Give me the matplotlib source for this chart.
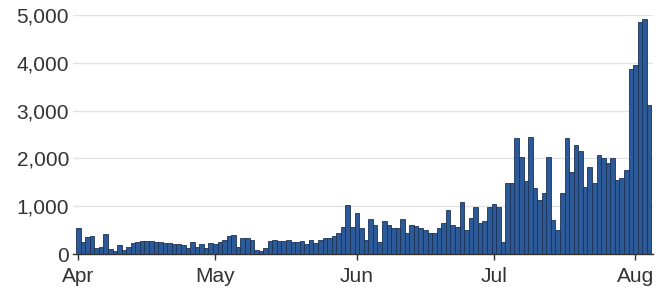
import numpy as np
import pandas as pd
import matplotlib
matplotlib.use("Agg")
import matplotlib.pyplot as plt
import matplotlib.dates as mdates
from matplotlib.ticker import FuncFormatter

# daily new cases
apr = [550, 250, 350, 380, 120, 150, 420, 100, 60, 180, 90, 150, 230, 250, 270,
       280, 270, 260, 250, 240, 230, 200, 210, 180, 130, 250, 150, 220, 120, 240]
may = [200, 250, 300, 380, 400, 150, 330, 340, 300, 80, 60, 120, 280, 300, 270, 280,
       290, 260, 250, 270, 200, 290, 230, 300, 330, 330, 380, 450, 560, 1030, 560]
jun = [860, 550, 300, 735, 610, 250, 690, 600, 550, 550, 735, 450, 600, 590, 550,
       500, 450, 440, 550, 650, 920, 600, 570, 1090, 500, 750, 990, 650, 700, 990]
jul = [1050, 990, 250, 1490, 1490, 2420, 2040, 1520, 2460, 1380, 1130, 1270, 2030, 710, 500,
       1270, 2420, 1720, 2290, 2150, 1410, 1830, 1490, 2080, 2010, 1910, 2010, 1550, 1590, 1760, 3870]
aug = [3950, 4850, 4920, 3130]

values = apr + may + jun + jul + aug
dates = pd.date_range("2020-04-01", periods=len(values), freq="D")
yticks = [0, 1000, 2000, 3000, 4000, 5000]

plt.rcParams['font.family'] = ['Liberation Sans', 'DejaVu Sans']

fig = plt.figure(figsize=(6.6, 2.92), dpi=100)
ax = fig.add_axes([0.111, 0.130, 0.878, 0.818])

ax.bar(dates, values, width=1.0, color="#2c5a98", edgecolor="#1c3357", linewidth=0.6, zorder=2)

ax.set_ylim(0, 5000)
ax.set_xlim(dates[0] - pd.Timedelta(days=1.1), dates[-1] + pd.Timedelta(days=0.8))
ax.set_yticks(yticks)
ax.yaxis.set_major_formatter(FuncFormatter(lambda v, p: f"{int(v):,}"))
ax.grid(axis="y", color="#e3e3e3", linewidth=1, zorder=0)

ax.xaxis.set_major_locator(mdates.MonthLocator())
ax.xaxis.set_major_formatter(mdates.DateFormatter("%b"))

for s in ["top", "right", "left"]:
    ax.spines[s].set_visible(False)
ax.spines["bottom"].set_color("#333333")
ax.spines["bottom"].set_linewidth(1)

ax.tick_params(axis="y", length=0, pad=3, labelsize=15, labelcolor="#333333")
ax.tick_params(axis="x", length=4, width=1, color="#333333", pad=5, labelsize=15, labelcolor="#333333")

fig.savefig("out.png", dpi=100)
